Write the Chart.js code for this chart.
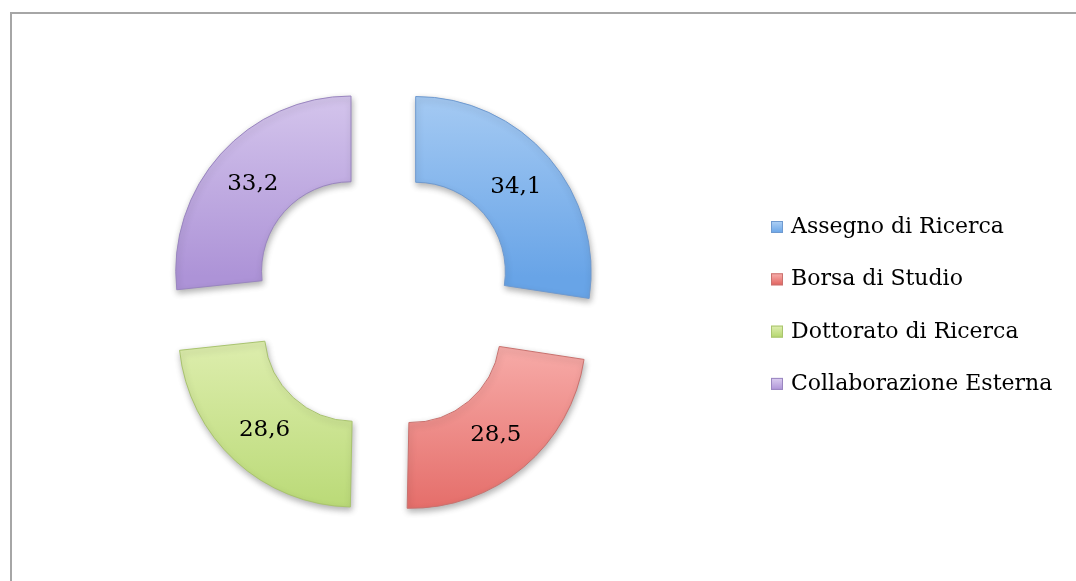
<!DOCTYPE html>
<html>
<head>
<meta charset="utf-8">
<script src="https://cdn.jsdelivr.net/npm/chart.js@4.4.1/dist/chart.umd.min.js"></script>
<style>
  html, body { margin: 0; padding: 0; background: #ffffff; }
  canvas { display: block; }
</style>
</head>
<body>
<canvas id="chart" width="1076" height="581"></canvas>
<script>
const categories = ["Assegno di Ricerca", "Borsa di Studio", "Dottorato di Ricerca", "Collaborazione Esterna"];
const values = [34.1, 28.5, 28.6, 33.2];
const valueLabels = ["34,1", "28,5", "28,6", "33,2"];

const Config = {
  light: ["#b0d1f5", "#f9b2af", "#e0efb2", "#dbcef0"],
  dark: ["#68a4e7", "#e1615d", "#b3d66c", "#ad93d7"],
  border: ["#6f9ad0", "#c9716e", "#a9c46e", "#9a86c0"],
  frame: "#a6a6a6",
  text: "#000000",
  font: `"DejaVu Serif", serif`,
  radius: 175,
  explode: 43,
};

const ctx = document.getElementById("chart");

// vertical gradient per segment, light on top, darker at the bottom
const segmentFill = (c) => {
  const i = c.dataIndex;
  const area = c.chart.chartArea;
  if (!area || i === undefined) return Config.dark[i] || Config.dark[0];
  const cy = (area.top + area.bottom) / 2;
  const total = values.reduce((a, b) => a + b, 0);
  let before = 0;
  for (let k = 0; k < i; k++) before += values[k];
  const mid = ((before + values[i] / 2) / total) * Math.PI * 2;
  let y0, y1;
  if (Math.cos(mid) > 0) {
    y0 = cy - Config.radius - 35;
    y1 = cy + 5;
  } else {
    y0 = cy - 5;
    y1 = cy + Config.radius + 35;
  }
  const g = c.chart.ctx.createLinearGradient(0, y0, 0, y1);
  g.addColorStop(0, Config.light[i]);
  g.addColorStop(1, Config.dark[i]);
  return g;
};

const framePlugin = {
  id: "frame",
  beforeDraw(chart) {
    const c = chart.ctx;
    c.save();
    c.fillStyle = "#ffffff";
    c.fillRect(0, 0, chart.width, chart.height);
    c.fillStyle = Config.frame;
    c.fillRect(10, 12, 2, chart.height - 12);
    c.fillRect(10, 12, chart.width - 10, 2);
    c.restore();
  },
  beforeDatasetsDraw(chart) {
    const c = chart.ctx;
    c.save();
    c.shadowColor = "rgba(0, 0, 0, 0.3)";
    c.shadowBlur = 6;
    c.shadowOffsetX = 1;
    c.shadowOffsetY = 3;
  },
  afterDatasetsDraw(chart) {
    chart.ctx.restore();
  },
};

const labelPlugin = {
  id: "arcLabels",
  afterDatasetsDraw(chart) {
    const c = chart.ctx;
    const meta = chart.getDatasetMeta(0);
    c.save();
    c.fillStyle = Config.text;
    c.font = `23px ${Config.font}`;
    c.textAlign = "center";
    c.textBaseline = "middle";
    meta.data.forEach((arc, i) => {
      const p = arc.getProps(["x", "y", "startAngle", "endAngle", "innerRadius", "outerRadius"], true);
      const mid = (p.startAngle + p.endAngle) / 2;
      const r = (p.innerRadius + p.outerRadius) / 2 + (arc.options.offset || 0) / 4;
      c.fillText(valueLabels[i], p.x + Math.cos(mid) * r, p.y + Math.sin(mid) * r + 1);
    });
    c.restore();
  },
};

const legendPlugin = {
  id: "sideLegend",
  afterDraw(chart) {
    const c = chart.ctx;
    c.save();
    c.font = `22px ${Config.font}`;
    c.textBaseline = "alphabetic";
    c.textAlign = "left";
    categories.forEach((name, i) => {
      const base = 233 + i * 52.3;
      const g = c.createLinearGradient(0, base - 12, 0, base);
      g.addColorStop(0, Config.light[i]);
      g.addColorStop(1, Config.dark[i]);
      c.fillStyle = g;
      c.fillRect(771, base - 12, 12, 12);
      c.strokeStyle = Config.border[i];
      c.lineWidth = 1;
      c.strokeRect(771.5, base - 11.5, 11, 11);
      c.fillStyle = Config.text;
      c.fillText(name, 791, base);
    });
    c.restore();
  },
};

new Chart(ctx, {
  type: "doughnut",
  data: {
    labels: categories,
    datasets: [
      {
        data: values,
        backgroundColor: segmentFill,
        borderColor: Config.border,
        borderWidth: 1,
        offset: Config.explode * 4,
        hoverOffset: 0,
      },
    ],
  },
  options: {
    responsive: false,
    animation: false,
    events: [],
    radius: Config.radius,
    cutout: "51%",
    layout: {
      padding: { left: 0, right: 310, top: 19, bottom: 0 },
    },
    plugins: {
      legend: { display: false },
      tooltip: { enabled: false },
    },
  },
  plugins: [framePlugin, labelPlugin, legendPlugin],
});
</script>
</body>
</html>
